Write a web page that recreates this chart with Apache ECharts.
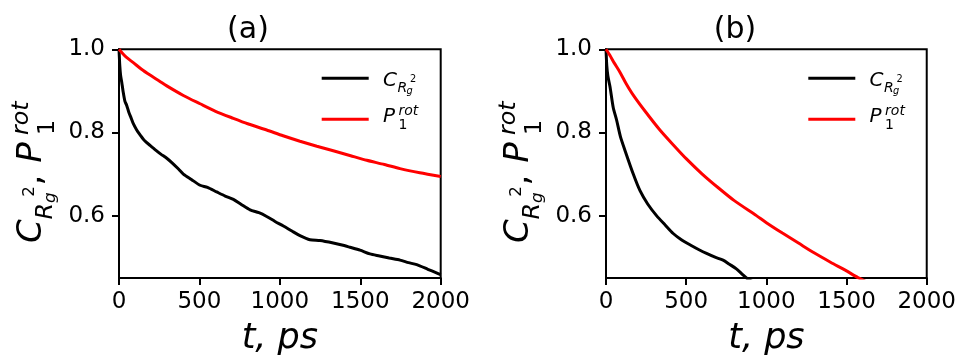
<!DOCTYPE html>
<html><head><meta charset="utf-8">
<script src="https://cdn.jsdelivr.net/npm/echarts@6/dist/echarts.min.js"></script>
<style>html,body{margin:0;padding:0;background:#fff}#c{width:959px;height:361px}</style>
</head><body><div id="c"></div>
<script>
// ---- data (t in ps) ----
const xTicks = [0, 500, 1000, 1500, 2000];
const yTicks = [0.6, 0.8, 1.0];

const tA_C = [0,5,10,17,25,37,48,60,75,89,110,130,160,193,230,260,297,330,370,400,450,504,550,607,660,711,760,815,870,918,970,1022,1075,1125,1187,1250,1332,1400,1436,1498,1560,1620,1680,1747,1800,1851,1920,1970,2000];
const vA_C = [1.0,0.96,0.937,0.921,0.90,0.875,0.865,0.85,0.835,0.821,0.806,0.795,0.78,0.769,0.757,0.748,0.738,0.727,0.712,0.700,0.687,0.673,0.668,0.657,0.647,0.639,0.627,0.614,0.607,0.598,0.586,0.575,0.563,0.552,0.542,0.54,0.534,0.528,0.524,0.517,0.508,0.503,0.498,0.493,0.487,0.482,0.471,0.463,0.458];

const tA_P = [0,20,45,89,140,193,250,297,400,504,600,711,800,918,1020,1125,1230,1332,1440,1540,1650,1747,1870,2000];
const vA_P = [1.0,0.991,0.981,0.968,0.952,0.938,0.924,0.912,0.889,0.869,0.851,0.834,0.821,0.806,0.792,0.779,0.767,0.756,0.744,0.733,0.723,0.713,0.703,0.694];

const tB_C = [0,5,12,25,45,66,90,120,170,212,260,315,370,419,470,523,580,627,680,730,770,813,850,880,920];
const vB_C = [1.0,0.96,0.935,0.91,0.86,0.83,0.79,0.755,0.700,0.660,0.628,0.600,0.577,0.557,0.542,0.530,0.518,0.509,0.500,0.493,0.483,0.472,0.459,0.449,0.44];

const tB_P = [0,25,50,87,125,170,250,336,420,500,600,700,800,938,1000,1100,1200,1300,1400,1500,1571,1700,1850,2000];
const vB_P = [1.0,0.985,0.968,0.945,0.918,0.890,0.848,0.806,0.770,0.737,0.700,0.667,0.636,0.600,0.583,0.558,0.534,0.510,0.488,0.467,0.451,0.427,0.402,0.380];

const titles = ['(a)', '(b)'];
const xName = 't, ps';

// ---- helpers ----
const FONT = 'DejaVu Sans';
const K = 0.33;
const pairs = (t, v) => t.map((x, i) => [x, v[i]]);
function piece(text, x, yb, size, italic) {
  return {type: 'text', x: x, y: yb - K * size, silent: true,
    style: {text: text, fontSize: size, fontFamily: FONT, fontStyle: italic ? 'italic' : 'normal',
      fill: '#000', verticalAlign: 'middle', align: 'left'}};
}
function legendTexts(dx) {
  return [
    piece('C', 383 + dx, 87, 20, true),
    piece('R', 397.5 + dx, 93, 14, true),
    piece('g', 406.5 + dx, 94.5, 9.8, true),
    piece('2', 410 + dx, 83, 9.8, false),
    piece('P', 383 + dx, 123, 20, true),
    piece('rot', 398.5 + dx, 115.5, 14, true),
    piece('1', 398.5 + dx, 130, 14, false)
  ];
}
function yLabel(x0, y0) {
  return {type: 'group', x: x0, y: y0, rotation: Math.PI / 2, children: [
    piece('C', 0, 0, 34, true),
    piece('R', 23.6, 10.4, 23.8, true),
    piece('g', 40.1, 13.2, 16.7, true),
    piece('2', 46.3, -7.6, 16.7, false),
    piece(',', 57.6, 0, 34, false),
    piece('P', 80.3, 0, 34, true),
    piece('rot', 108, -13.2, 23.8, true),
    piece('1', 108, 12.3, 23.8, false)
  ]};
}

const grids = [
  {left: 119, top: 49.3, width: 321.7, height: 237.4},
  {left: 606, top: 49.3, width: 321.3, height: 237.4}
];
const titleX = [248, 735];
const legDx = [0, 486.6];

const option = {
  animation: false,
  backgroundColor: '#fff',
  title: titles.map((t, i) => ({text: t, left: titleX[i], top: 15, textAlign: 'center', padding: 0,
    textStyle: {fontFamily: FONT, fontSize: 30, fontWeight: 'normal', color: '#000'}})),
  grid: grids.map(g => Object.assign({show: true, borderColor: '#000', borderWidth: 2, backgroundColor: 'transparent'}, g)),
  xAxis: grids.map((g, i) => ({
    type: 'value', gridIndex: i, min: 0, max: 2000, interval: 500,
    name: xName, nameLocation: 'middle', nameGap: 43,
    nameTextStyle: {fontFamily: FONT, fontSize: 35, fontStyle: 'italic', color: '#000'},
    axisLine: {show: true, onZero: false, lineStyle: {color: '#000', width: 2}},
    axisTick: {show: true, length: 7, lineStyle: {color: '#000', width: 2}},
    axisLabel: {show: true, margin: 13, fontFamily: FONT, fontSize: 23, color: '#000',
      customValues: xTicks, formatter: v => String(v)},
    splitLine: {show: false}
  })),
  yAxis: grids.map((g, i) => ({
    type: 'value', gridIndex: i, min: 0.45, max: 1.0,
    axisLine: {show: true, onZero: false, lineStyle: {color: '#000', width: 2}},
    axisTick: {show: true, length: 7, lineStyle: {color: '#000', width: 2}, customValues: yTicks},
    axisLabel: {show: true, margin: 14, fontFamily: FONT, fontSize: 23, color: '#000',
      customValues: yTicks, formatter: v => v.toFixed(1)},
    splitLine: {show: false}
  })),
  legend: [0, 1].map(i => ({
    data: i === 0 ? ['C_a', 'P_a'] : ['C_b', 'P_b'],
    orient: 'vertical', left: 321.7 + legDx[i], top: 76.8, padding: 0,
    itemWidth: 47, itemHeight: 3, itemGap: 38, icon: 'rect',
    formatter: () => '', textStyle: {fontSize: 1}, selectedMode: false
  })),
  series: [
    {name: 'C_a', data: pairs(tA_C, vA_C), xAxisIndex: 0, yAxisIndex: 0, color: '#000'},
    {name: 'P_a', data: pairs(tA_P, vA_P), xAxisIndex: 0, yAxisIndex: 0, color: '#ff0000'},
    {name: 'C_b', data: pairs(tB_C, vB_C), xAxisIndex: 1, yAxisIndex: 1, color: '#000'},
    {name: 'P_b', data: pairs(tB_P, vB_P), xAxisIndex: 1, yAxisIndex: 1, color: '#ff0000'}
  ].map(s => Object.assign({type: 'line', showSymbol: false, smooth: 0.25, clip: true,
    lineStyle: {width: 3, color: s.color}, itemStyle: {color: s.color}}, s)),
  graphic: [
    yLabel(43, 243), yLabel(530, 243)
  ].concat(legendTexts(0), legendTexts(486.6))
};

const chart = echarts.init(document.getElementById('c'), null, {renderer: 'canvas'});
chart.setOption(option);
</script></body></html>
